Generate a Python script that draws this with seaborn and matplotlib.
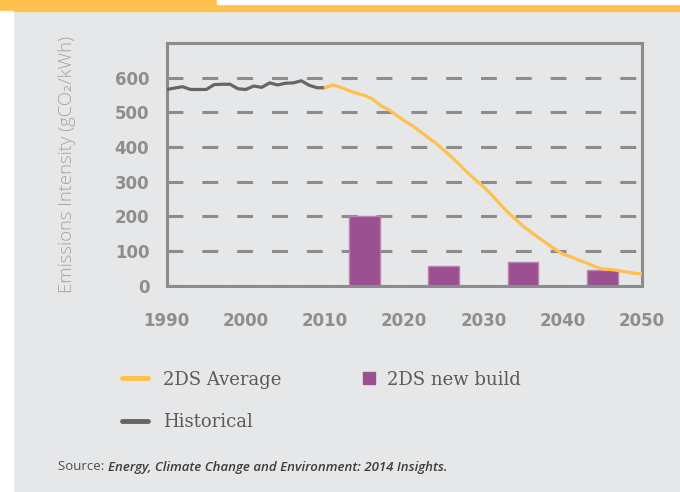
import matplotlib
matplotlib.use("Agg")
import matplotlib.pyplot as plt
import seaborn as sns
from matplotlib.lines import Line2D
from matplotlib.patches import Rectangle

# data
hist_years = list(range(1990, 2011))
hist_vals = [566, 570, 574, 566, 566, 566, 580, 581, 581, 568, 566,
             576, 572, 585, 579, 584, 585, 591, 578, 571, 571]

avg_years = list(range(2010, 2051))
avg_vals = [571, 579, 572, 563, 555, 549, 538, 520, 508, 492, 476,
            462, 445, 428, 411, 391, 371, 349, 326, 305, 286,
            263, 238, 214, 193, 172, 155, 138, 122, 106, 92,
            84, 74, 66, 56, 48, 47, 44, 40, 36, 34]

build_years = [2015, 2025, 2035, 2045]
build_vals = [200, 56, 68, 44]

x_ticks = [1990, 2000, 2010, 2020, 2030, 2040, 2050]
y_ticks = [0, 100, 200, 300, 400, 500, 600]

ORANGE = "#fec04e"
PURPLE = "#9b5191"
DARK = "#656565"
GRID = "#8c8c8c"
BG = "#e6e7e9"

sns.set_theme(style="white")
plt.rcParams["font.family"] = ["DejaVu Sans"]

fig = plt.figure(figsize=(6.8, 4.92), dpi=100, facecolor=BG)
# top band and white left margin
fig.patches.append(Rectangle((0, (492 - 10.5) / 492), 1, 10.5 / 492,
                             transform=fig.transFigure, color=ORANGE, zorder=0))
fig.patches.append(Rectangle((217 / 680, (492 - 4) / 492), 1, 4 / 492,
                             transform=fig.transFigure, color="white", zorder=1))
fig.patches.append(Rectangle((0, 0), 13 / 680, (492 - 10.5) / 492,
                             transform=fig.transFigure, color="white", zorder=1))

ax = fig.add_axes([166.7 / 680, (492 - 285.7) / 492, 475 / 680, 242.7 / 492])
ax.set_facecolor(BG)

sns.barplot(x=build_years, y=build_vals, native_scale=True, width=0.39,
            color=PURPLE, saturation=1, edgecolor="#b985b0", linewidth=1,
            ax=ax, zorder=2)
sns.lineplot(x=hist_years, y=hist_vals, color=DARK, linewidth=2.3, ax=ax, zorder=3)
sns.lineplot(x=avg_years, y=avg_vals, color=ORANGE, linewidth=2.3, ax=ax, zorder=3)

ax.set_xlim(1990, 2050)
ax.set_ylim(0, 700)
ax.set_xticks(x_ticks)
ax.set_yticks(y_ticks)
ax.set_axisbelow(True)
ax.grid(axis="y", color=GRID, linewidth=2.2, linestyle=(0, (5.2, 6.2)))
ax.grid(axis="x", visible=False)

for s in ax.spines.values():
    s.set_color(GRID)
    s.set_linewidth(2.2)

ax.tick_params(axis="x", direction="in", length=4, width=2.2, color=GRID,
               pad=19, labelsize=12, labelcolor="#8e8e8e")
ax.tick_params(axis="y", length=0, pad=12.5, labelsize=12, labelcolor="#8e8e8e")
for lab in ax.get_xticklabels() + ax.get_yticklabels():
    lab.set_fontweight("bold")

ax.set_xlabel("")
ax.set_ylabel("Emissions Intensity (gCO\u2082/kWh)", fontsize=13.3, color="#a3a3a3",
              family=["Open Sans", "DejaVu Sans"], fontweight="light", va="center")
ax.yaxis.set_label_coords(-0.2105, 0.5)

leg_font = {"family": "DejaVu Serif", "size": 13}
leg_y = (492 - 370.7) / 492

# first legend column: the two lines
leg1 = fig.legend([Line2D([], [], color=ORANGE, lw=3.5),
                   Line2D([], [], color=DARK, lw=3.5)],
                  ["2DS Average", "Historical"],
                  loc="upper left", bbox_to_anchor=(122 / 680, leg_y),
                  frameon=False, borderpad=0, borderaxespad=0,
                  handlelength=1.44, handletextpad=0.83, labelspacing=1.35,
                  prop=leg_font, labelcolor="#5a5a5a")
# second legend column: the bars
leg2 = fig.legend([Line2D([], [], color=PURPLE, marker="s", ls="none", markersize=8)],
                  ["2DS new build"],
                  loc="upper left", bbox_to_anchor=(361.5 / 680, leg_y),
                  frameon=False, borderpad=0, borderaxespad=0,
                  handlelength=0.78, handletextpad=0.64,
                  prop=leg_font, labelcolor="#5a5a5a")

src_y = (492 - 467) / 492
src = fig.text(58 / 680, src_y, "Source: ", fontsize=9.5,
               color="#4d4d4d", va="center", family=["Open Sans", "DejaVu Sans"])
fig.canvas.draw()
bb = src.get_window_extent()
fig.text(bb.x1 / 680, src_y,
         "Energy, Climate Change and Environment: 2014 Insights.",
         fontsize=9.5, color="#3d3d3d", va="center", style="italic",
         fontweight="semibold", family=["Open Sans", "DejaVu Sans"])

fig.savefig("out.png", dpi=100, facecolor=BG)
